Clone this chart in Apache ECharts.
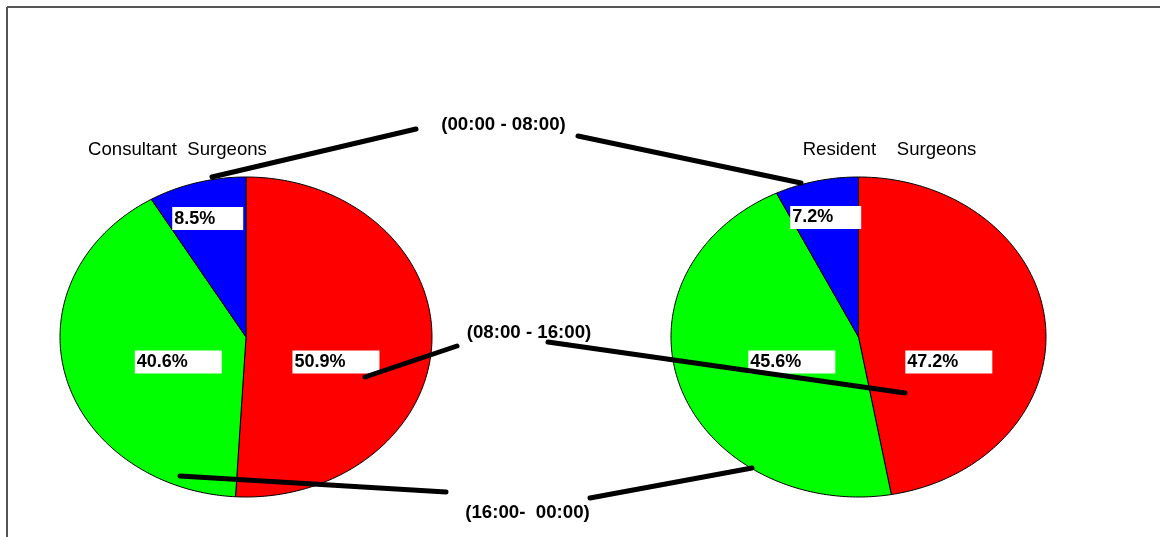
<!DOCTYPE html>
<html>
<head>
<meta charset="utf-8">
<script src="https://cdn.jsdelivr.net/npm/echarts@6/dist/echarts.min.js"></script>
<style>
html,body{margin:0;padding:0;background:#fff;}
#chart{width:1160px;height:537px;}
</style>
</head>
<body>
<div id="chart"></div>
<script>
// ---- data ----
const pieTitles = ['Consultant  Surgeons', 'Resident    Surgeons'];
const sliceCategories = ['(08:00 - 16:00)', '(16:00-  00:00)', '(00:00 - 08:00)'];
const consultantPct = [50.9, 40.6, 8.5];
const residentPct = [47.2, 45.6, 7.2];
const sliceColors = ['#ff0000', '#00ff00', '#0000ff'];

const FONT = "'Liberation Sans', Arial, Helvetica, sans-serif";

function buildData(values) {
  const total = values.reduce((a, b) => a + b, 0);
  let acc = 0;
  return values.map((v, i) => {
    const s = acc / total;
    acc += v;
    return { value: [s, acc / total, v, i], name: sliceCategories[i] };
  });
}

function renderSlice(params, api) {
  const s = api.value(0), e = api.value(1), pct = api.value(2), idx = api.value(3);
  const c = api.coord([0, 0]);
  const pts = [c];
  const n = Math.max(6, Math.ceil((e - s) * 360));
  for (let k = 0; k <= n; k++) {
    const a = 2 * Math.PI * (s + (e - s) * k / n);
    pts.push(api.coord([Math.sin(a), Math.cos(a)]));
  }
  const mid = 2 * Math.PI * (s + e) / 2;
  const small = pct < 15;
  let cx, cy;
  if (small) {
    const p = api.coord([0.78 * Math.sin(mid), 0.78 * Math.cos(mid)]);
    cx = p[0]; cy = p[1] + 2;
  } else {
    const p = api.coord([0.43 * Math.sin(mid), 0]);
    cx = p[0] + 10; cy = c[1] + 25;
  }
  const txt = pct.toFixed(1) + '%';
  const boxW = 16 * txt.length + 7;
  return {
    type: 'group',
    children: [
      {
        type: 'polygon',
        shape: { points: pts },
        style: { fill: sliceColors[idx], stroke: '#000', lineWidth: 1 }
      },
      {
        type: 'text',
        x: cx - boxW / 2, y: cy,
        z2: 10,
        style: {
          text: txt,
          fill: '#000',
          font: 'bold 18px ' + FONT,
          align: 'left',
          verticalAlign: 'middle',
          backgroundColor: '#fff',
          width: boxW - 4,
          padding: [3, 2, 2, 2],
          lineHeight: 18
        }
      }
    ]
  };
}

const chart = echarts.init(document.getElementById('chart'), null, { renderer: 'canvas' });

const axisHidden = { type: 'value', min: -1, max: 1, show: false };

const leaderLines = [
  [[416, 129], [212, 177]],
  [[578, 136], [801, 183]],
  [[457, 346], [365, 377]],
  [[548, 342], [905, 393]],
  [[446, 492], [180, 476]],
  [[590, 498], [752, 468]]
];

const titleFont = '18.6px ' + FONT;
const catFont = 'bold 18.7px ' + FONT;
const graphics = [
  { type: 'line', shape: { x1: 7, y1: 7, x2: 1160, y2: 7 }, style: { stroke: '#555', lineWidth: 2 }, z: 100 },
  { type: 'line', shape: { x1: 7, y1: 7, x2: 7, y2: 537 }, style: { stroke: '#555', lineWidth: 2 }, z: 100 },
  { type: 'text', x: 177.5, y: 150, style: { text: pieTitles[0], font: titleFont, fill: '#000', align: 'center', verticalAlign: 'middle' }, z: 100 },
  { type: 'text', x: 889.5, y: 150, style: { text: pieTitles[1], font: titleFont, fill: '#000', align: 'center', verticalAlign: 'middle' }, z: 100 },
  { type: 'text', x: 503.5, y: 125, style: { text: sliceCategories[2], font: catFont, fill: '#000', align: 'center', verticalAlign: 'middle' }, z: 100 },
  { type: 'text', x: 529, y: 333, style: { text: sliceCategories[0], font: catFont, fill: '#000', align: 'center', verticalAlign: 'middle' }, z: 100 },
  { type: 'text', x: 527.5, y: 513, style: { text: sliceCategories[1], font: catFont, fill: '#000', align: 'center', verticalAlign: 'middle' }, z: 100 }
];
leaderLines.forEach(l => {
  graphics.push({
    type: 'line',
    shape: { x1: l[0][0], y1: l[0][1], x2: l[1][0], y2: l[1][1] },
    style: { stroke: '#000', lineWidth: 5, lineCap: 'round' },
    z: 101
  });
});

chart.setOption({
  animation: false,
  backgroundColor: '#fff',
  grid: [
    { left: 60, top: 177, width: 372, height: 320 },
    { left: 671, top: 177, width: 375, height: 320 }
  ],
  xAxis: [Object.assign({ gridIndex: 0 }, axisHidden), Object.assign({ gridIndex: 1 }, axisHidden)],
  yAxis: [Object.assign({ gridIndex: 0 }, axisHidden), Object.assign({ gridIndex: 1 }, axisHidden)],
  series: [
    {
      type: 'custom', name: pieTitles[0], xAxisIndex: 0, yAxisIndex: 0,
      coordinateSystem: 'cartesian2d', clip: false,
      renderItem: renderSlice, data: buildData(consultantPct)
    },
    {
      type: 'custom', name: pieTitles[1], xAxisIndex: 1, yAxisIndex: 1,
      coordinateSystem: 'cartesian2d', clip: false,
      renderItem: renderSlice, data: buildData(residentPct)
    }
  ],
  graphic: graphics
});
</script>
</body>
</html>
